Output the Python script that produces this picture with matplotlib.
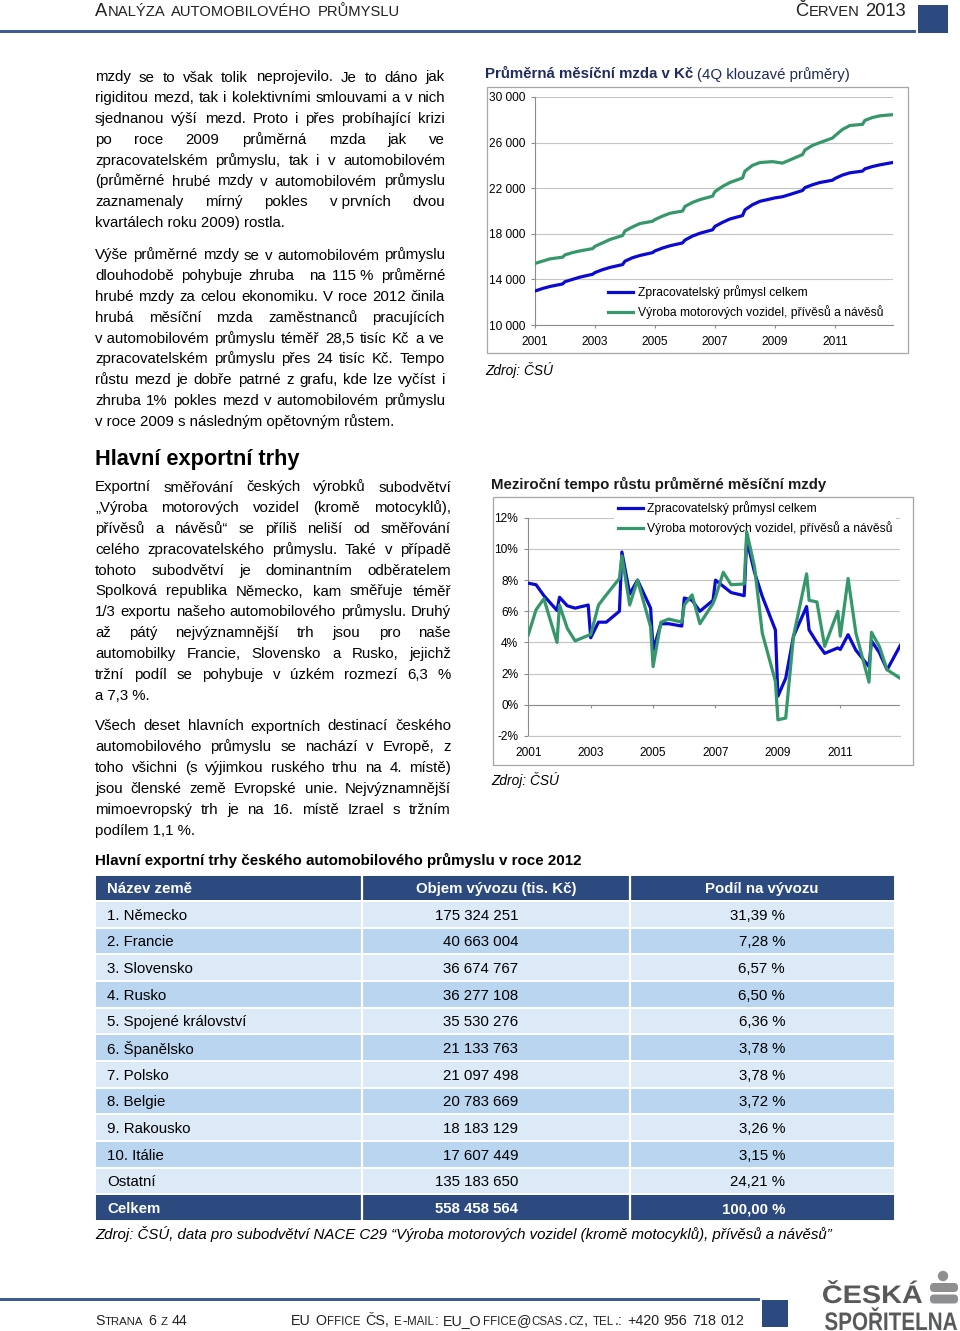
import numpy as np
import matplotlib
matplotlib.use('Agg')
import matplotlib.pyplot as plt
import matplotlib.transforms as mtransforms
from matplotlib.patches import Rectangle, PathPatch, FancyBboxPatch, Circle
from matplotlib.textpath import TextPath
from matplotlib.font_manager import FontProperties
from matplotlib.ticker import FuncFormatter

W, H = 960, 1331
plt.rcParams['font.family'] = ['Liberation Sans', 'DejaVu Sans']

# ---------------- data ----------------
years = list(range(2001, 2013))
periods = [(y, q) for y in years for q in range(4)]
Q_POS = [0.0, 0.25, 0.5, 0.92]          # where the source chart puts the quarters
tick_years = [2001, 2003, 2005, 2007, 2009, 2011]
series_names = ['Zpracovatelský průmysl celkem',
                'Výroba motorových vozidel, přívěsů a návěsů']

# average monthly wage, CZK (4Q moving average)
wage_manuf = [12980, 13200, 13380, 13600, 13800, 14000, 14200, 14450,
              14600, 14850, 15050, 15300, 15600, 15900, 16100, 16350,
              16500, 16750, 16950, 17200, 17450, 17800, 18050, 18350,
              18650, 19000, 19300, 19600, 20100, 20550, 20850, 21100,
              21150, 21250, 21450, 21800, 22050, 22300, 22500, 22700,
              22850, 23150, 23350, 23500, 23700, 23900, 24050, 24250]
wage_auto = [15400, 15600, 15800, 15950, 16150, 16350, 16500, 16700,
             16900, 17200, 17500, 17850, 18250, 18600, 18900, 19100,
             19250, 19550, 19800, 20000, 20400, 20750, 21000, 21300,
             21700, 22150, 22500, 22900, 23500, 24000, 24250, 24330,
             24300, 24200, 24480, 24950, 25350, 25750, 26000, 26400,
             26600, 27150, 27500, 27600, 27950, 28200, 28350, 28450]

# year-on-year growth of average wage, %
growth_manuf = [7.8, 7.7, 7.0, 6.05, 6.9, 6.35, 6.2, 6.4,
                4.3, 5.3, 5.3, 6.0, 9.8, 7.1, 8.0, 6.2,
                3.5, 5.2, 5.2, 5.05, 6.85, 6.7, 6.0, 6.7,
                8.0, 7.6, 7.2, 7.0, 10.6, 8.5, 6.95, 4.8,
                0.55, 1.7, 4.4, 6.3, 4.8, 4.0, 3.3, 3.65,
                3.55, 4.5, 3.5, 2.45, 4.1, 3.35, 2.25, 3.8]
growth_auto = [4.5, 6.1, 6.8, 4.0, 6.4, 4.9, 4.1, 4.45,
               4.5, 6.4, 7.05, 8.1, 9.55, 6.4, 8.0, 5.0,
               2.45, 5.3, 5.5, 5.3, 6.4, 7.05, 5.2, 6.5,
               6.9, 8.5, 7.7, 7.75, 11.1, 8.85, 4.6, 1.5,
               -0.96, -0.85, 4.4, 8.4, 6.7, 6.6, 3.75, 6.0,
               4.4, 8.1, 4.6, 1.45, 4.65, 3.75, 2.25, 1.7]

# export table
countries = ['1. Německo', '2. Francie', '3. Slovensko', '4. Rusko',
             '5. Spojené království', '6. Španělsko', '7. Polsko',
             '8. Belgie', '9. Rakousko', '10. Itálie', 'Ostatní']
export_vol = ['175 324 251', '40 663 004', '36 674 767', '36 277 108',
              '35 530 276', '21 133 763', '21 097 498', '20 783 669',
              '18 183 129', '17 607 449', '135 183 650']
export_share = ['31,39 %', '7,28 %', '6,57 %', '6,50 %', '6,36 %', '3,78 %',
                '3,78 %', '3,72 %', '3,26 %', '3,15 %', '24,21 %']
total_vol = '558 458 564'
total_share = '100,00 %'

par1 = ["mzdy se to však tolik neprojevilo. Je to dáno jak",
        "rigiditou mezd, tak i kolektivními smlouvami a v nich",
        "sjednanou výší mezd. Proto i přes probíhající krizi",
        "po roce 2009 průměrná mzda jak ve",
        "zpracovatelském průmyslu, tak i v automobilovém",
        "(průměrné hrubé mzdy v automobilovém průmyslu",
        "zaznamenaly mírný pokles v~prvních dvou",
        "kvartálech roku 2009) rostla."]
par2 = ["Výše průměrné mzdy se v automobilovém průmyslu",
        "dlouhodobě pohybuje zhruba  na 115~% průměrné",
        "hrubé mzdy za celou ekonomiku. V roce 2012 činila",
        "hrubá měsíční mzda zaměstnanců pracujících",
        "v~automobilovém průmyslu téměř 28,5 tisíc Kč a ve",
        "zpracovatelském průmyslu přes 24 tisíc Kč. Tempo",
        "růstu mezd je dobře patrné z grafu, kde lze vyčíst i",
        "zhruba 1% pokles mezd v automobilovém průmyslu",
        "v~roce 2009 s následným opětovným růstem."]
par3 = ["Exportní směřování českých výrobků subodvětví",
        "„Výroba motorových vozidel (kromě motocyklů),",
        "přívěsů a návěsů“ se příliš neliší od směřování",
        "celého zpracovatelského průmyslu. Také v případě",
        "tohoto subodvětví je dominantním odběratelem",
        "Spolková republika Německo, kam směřuje téměř",
        "1/3 exportu našeho automobilového průmyslu. Druhý",
        "až pátý nejvýznamnější trh jsou pro naše",
        "automobilky Francie, Slovensko a Rusko, jejichž",
        "tržní podíl se pohybuje v úzkém rozmezí 6,3 %",
        "a 7,3 %."]
par4 = ["Všech deset hlavních exportních destinací českého",
        "automobilového průmyslu se nachází v Evropě, z",
        "toho všichni (s výjimkou ruského trhu na 4. místě)",
        "jsou členské země Evropské unie. Nejvýznamnější",
        "mimoevropský trh je na 16. místě Izrael s tržním",
        "podílem 1,1 %."]

# ---------------- style ----------------
BLUE = '#0a0ad2'
GREEN = '#35976a'
NAVY = '#2c4a80'
GRID = '#c4c4c4'
AXIS = '#8c8c8c'
ROW_LIGHT = '#dce9f7'
ROW_DARK = '#b9d5f0'
BODY = 10.85

fig = plt.figure(figsize=(W / 100, H / 100), dpi=100)
fig.patch.set_facecolor('white')
renderer = fig.canvas.get_renderer()


def px_rect(x0, y0, x1, y1):
    return [x0 / W, 1 - y1 / H, (x1 - x0) / W, (y1 - y0) / H]


def T(x, y, s, **kw):
    kw.setdefault('va', 'baseline')
    return fig.text(x / W, 1 - y / H, s, **kw)


def text_w(s, **kw):
    if not s:
        return 0.0
    t = T(0, 0, s, **kw)
    w = t.get_window_extent(renderer).width
    t.remove()
    return w


def space_w(**kw):
    return text_w('x x', **kw) - text_w('xx', **kw)


def paragraph(lines, x0, x1, y0, step=20.8, size=BODY):
    for i, line in enumerate(lines):
        y = y0 + i * step
        if i == len(lines) - 1:
            T(x0, y, line.replace('~', '\u00a0'), fontsize=size)
            continue
        words = [w.replace('~', '\u00a0') for w in line.split(' ')]
        widths = [text_w(w, fontsize=size) for w in words]
        gap = (x1 - x0 - sum(widths)) / (len(words) - 1)
        x = x0
        for w, wd in zip(words, widths):
            if w:
                T(x, y, w, fontsize=size)
            x += wd + gap


def smallcaps(x, y, s, big, small, **kw):
    sp = space_w(fontsize=big, **kw)
    for token in s.split(' '):
        runs = []
        for ch in token:
            low = ch.islower()
            if runs and runs[-1][0] == low:
                runs[-1][1] += ch
            else:
                runs.append([low, ch])
        for low, txt in runs:
            size = small if low else big
            t = T(x, y, txt.upper(), fontsize=size, **kw)
            x += t.get_window_extent(renderer).width + 0.6
        x += sp


def bar(x0, y0, x1, y1, color):
    fig.add_artist(Rectangle((x0 / W, 1 - y1 / H), (x1 - x0) / W, (y1 - y0) / H,
                             transform=fig.transFigure, facecolor=color,
                             edgecolor='none'))


def frame(x0, y0, x1, y1):
    fig.add_artist(Rectangle((x0 / W, 1 - y1 / H), (x1 - x0) / W, (y1 - y0) / H,
                             transform=fig.transFigure, fill=False,
                             edgecolor='#a6a6a6', lw=0.9))


def path_text(x0, x1, baseline, cap, s, color):
    fp = FontProperties(family='Liberation Sans', weight='bold')
    tp = TextPath((0, 0), s, size=100, prop=fp)
    bb = tp.get_extents()
    tr = (mtransforms.Affine2D().translate(-bb.x0, 0)
          .scale((x1 - x0) / bb.width, cap / 72.9)
          .translate(x0, H - baseline))
    fig.add_artist(PathPatch(tp, transform=tr, facecolor=color,
                             edgecolor='none'))


# ---------------- page header / footer ----------------
smallcaps(95, 15.5, 'Analýza automobilového průmyslu', 13.2, 10.6, color='#222222')
smallcaps(795, 15.5, 'Červen 2013', 13.2, 10.6, color='#222222')
bar(0, 29.5, 916, 33, '#3c5b93')
bar(918, 5, 948, 33, NAVY)

bar(0, 1297.5, 760, 1301, '#3c5b93')
bar(762, 1300, 788, 1327, NAVY)
smallcaps(95, 1325, 'Strana 6 z 44', 10.2, 8.2, color='#222222')
smallcaps(291, 1325, 'EU Office ČS, e-mail: EU_Office@csas.cz, tel.: +420 956 718 012',
          10.3, 8.3, color='#222222')

path_text(823, 922, 1303, 18.5, 'ČESKÁ', '#58595b')
path_text(825, 957, 1330, 18.5, 'SPOŘITELNA', '#58595b')
fig.add_artist(Circle((943, H - 1276), 5.2, transform=mtransforms.IdentityTransform(),
                      facecolor='#8e8f91', edgecolor='none'))
for top, bot in [(1283, 1292), (1294.5, 1303.5)]:
    fig.add_artist(FancyBboxPatch((930, H - bot), 28, bot - top,
                                  boxstyle='round,pad=0,rounding_size=4',
                                  transform=mtransforms.IdentityTransform(),
                                  facecolor='#8e8f91', edgecolor='none'))

# ---------------- body text ----------------
paragraph(par1, 95, 445, 81.5)
paragraph(par2, 95, 445, 259.5)
T(95, 464.5, 'Hlavní exportní trhy', fontsize=15.7, weight='bold')
paragraph(par3, 95, 451, 491.5)
paragraph(par4, 95, 451, 730.5)

# ---------------- chart 1: wages ----------------
TITLE_C = '#1f2c5c'
t = T(485, 78.5, 'Průměrná měsíční mzda v Kč', fontsize=10.8, weight='bold', color=TITLE_C)
x_after = 485 + t.get_window_extent(renderer).width + space_w(fontsize=10.8)
T(x_after, 78.5, '(4Q klouzavé průměry)', fontsize=10.8, color=TITLE_C)
frame(487, 87, 908, 353)
T(485, 375, 'Zdroj: ČSÚ', fontsize=9.9, style='italic')

xs = [y + Q_POS[q] for y, q in periods]

ax1 = fig.add_axes(px_rect(535, 97, 892.5, 325))
ax1.set_facecolor('none')
ax1.plot(xs, wage_manuf, color=BLUE, lw=2.3, label=series_names[0], zorder=3,
         solid_joinstyle='round')
ax1.plot(xs, wage_auto, color=GREEN, lw=2.3, label=series_names[1], zorder=3,
         solid_joinstyle='round')
ax1.set_xlim(2001, 2012.92)
ax1.set_ylim(10000, 30000)
ax1.set_yticks(range(10000, 30001, 4000))
ax1.yaxis.set_major_formatter(FuncFormatter(lambda v, p: f'{v:,.0f}'.replace(',', ' ')))
ax1.set_xticks(tick_years)
ax1.grid(axis='y', color=GRID, lw=0.8)
ax1.set_axisbelow(True)
for s in ['top', 'right']:
    ax1.spines[s].set_visible(False)
for s in ['left', 'bottom']:
    ax1.spines[s].set_color(AXIS)
    ax1.spines[s].set_linewidth(0.8)
ax1.tick_params(axis='y', length=3, color=AXIS, pad=3.6, labelsize=8.6)
ax1.tick_params(axis='x', length=2.5, color=AXIS, pad=5.5, labelsize=8.6)
ax1.legend(loc='upper left', bbox_to_anchor=(608 / W, 1 - 285 / H),
           bbox_transform=fig.transFigure, frameon=False, fontsize=8.7,
           handlelength=2.1, handletextpad=0.35, labelspacing=0.5,
           borderpad=0, borderaxespad=0)

# ---------------- chart 2: growth ----------------
T(491, 489.5, 'Meziroční tempo růstu průměrné měsíční mzdy', fontsize=10.8,
  weight='bold', color='#1a1a1a')
frame(493, 497, 913, 765)
T(491, 785, 'Zdroj: ČSÚ', fontsize=9.9, style='italic')

ax2 = fig.add_axes(px_rect(528.3, 517.7, 900.2, 736))
ax2.set_facecolor('none')
ax2.plot(xs, growth_manuf, color=BLUE, lw=2.3, label=series_names[0], zorder=3,
         solid_joinstyle='round')
ax2.plot(xs, growth_auto, color=GREEN, lw=2.3, label=series_names[1], zorder=3,
         solid_joinstyle='round')
ax2.set_xlim(2001, 2012.92)
ax2.set_ylim(-2, 12)
ax2.set_yticks(range(-2, 13, 2))
ax2.yaxis.set_major_formatter(FuncFormatter(lambda v, p: f'{v:.0f}%'))
ax2.set_xticks(tick_years)
ax2.grid(axis='y', color=GRID, lw=0.8)
ax2.set_axisbelow(True)
for s in ['top', 'right']:
    ax2.spines[s].set_visible(False)
ax2.spines['bottom'].set_color(GRID)
ax2.spines['bottom'].set_linewidth(0.8)
ax2.spines['left'].set_color(AXIS)
ax2.spines['left'].set_linewidth(0.8)
ax2.axhline(0, color=AXIS, lw=0.8, zorder=1)
ax2.vlines(tick_years, -0.22, 0, color=AXIS, lw=0.8, zorder=1)
ax2.tick_params(axis='y', length=3, color=AXIS, pad=4.3, labelsize=8.6)
ax2.tick_params(axis='x', length=0, pad=8, labelsize=8.6)
leg2 = ax2.legend(loc='upper left', bbox_to_anchor=(614 / W, 1 - 497.5 / H),
                  bbox_transform=fig.transFigure, frameon=True, fancybox=False,
                  facecolor='white', edgecolor='none', framealpha=1, fontsize=8.7,
                  handlelength=2.1, handletextpad=0.35, labelspacing=0.5,
                  borderpad=0.3, borderaxespad=0)
leg2.set_zorder(2)

# ---------------- table ----------------
T(95, 865.5, 'Hlavní exportní trhy českého automobilového průmyslu v roce 2012',
  fontsize=10.9, weight='bold')
tab = fig.add_axes(px_rect(95, 874.5, 895, 1221))
tab.set_xlim(95, 895)
tab.set_ylim(len(countries) + 2, 0)
tab.axis('off')
header = ['Název země', 'Objem vývozu (tis. Kč)', 'Podíl na vývozu']
rows = [header] + [list(r) for r in zip(countries, export_vol, export_share)] + \
       [['Celkem', total_vol, total_share]]
for i, row in enumerate(rows):
    dark = i == 0 or i == len(rows) - 1
    fc = NAVY if dark else (ROW_LIGHT if i % 2 else ROW_DARK)
    tab.add_patch(Rectangle((95, i), 800, 1, facecolor=fc, edgecolor='white', lw=1.4))
    col = 'white' if dark else 'black'
    wt = 'bold' if dark else 'normal'
    yc = i + 0.55
    tab.text(107, yc, row[0], ha='left', va='center', fontsize=10.8, color=col, weight=wt)
    if i == 0:
        tab.text(496, yc, row[1], ha='center', va='center', fontsize=10.8, color=col, weight=wt)
        tab.text(762, yc, row[2], ha='center', va='center', fontsize=10.8, color=col, weight=wt)
    else:
        tab.text(518, yc, row[1], ha='right', va='center', fontsize=10.8, color=col, weight=wt)
        tab.text(785, yc, row[2], ha='right', va='center', fontsize=10.8, color=col, weight=wt)
tab.vlines([362, 630], 0, len(rows), color='white', lw=1.6)

T(95, 1239, 'Zdroj: ČSÚ, data pro subodvětví NACE C29 “Výroba motorových vozidel '
  '(kromě motocyklů), přívěsů a návěsů”', fontsize=10.85, style='italic')

fig.savefig('out.png', dpi=100, facecolor='white')
